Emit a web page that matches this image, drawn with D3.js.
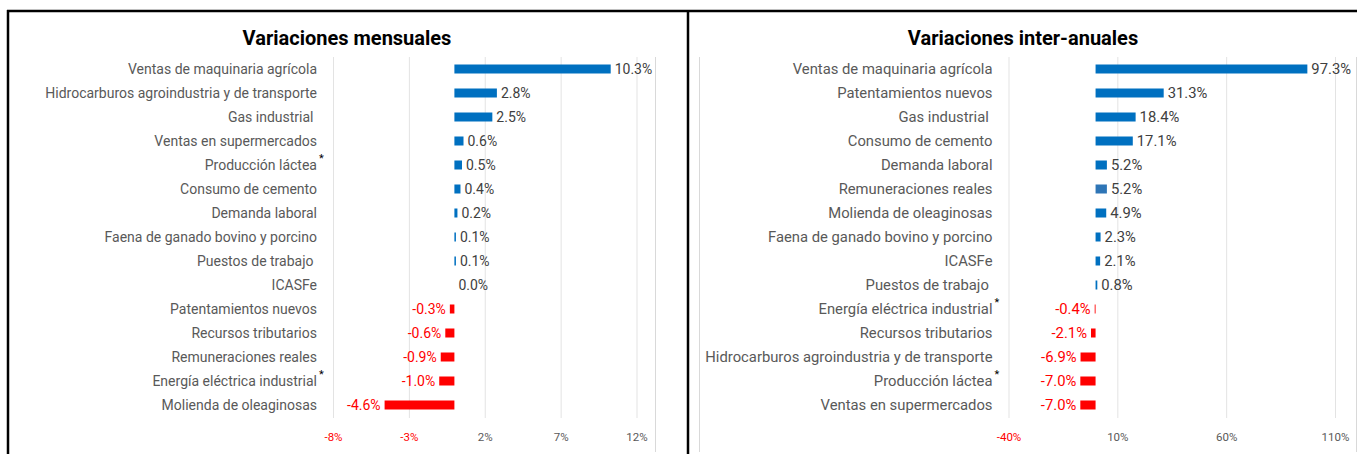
<!DOCTYPE html>
<html>
<head>
<meta charset="utf-8">
<style>
  body { margin: 0; background: #fff; }
  text { font-family: Roboto, "Open Sans", sans-serif; }
</style>
</head>
<body>
<svg width="1357" height="454"></svg>
<script src="https://d3js.org/d3.v7.min.js"></script>
<script>
// monthly variations (top to bottom)
const mensualesLabels = [
  "Ventas de maquinaria agrícola", "Hidrocarburos agroindustria y de transporte", "Gas industrial ",
  "Ventas en supermercados", "Producción láctea*", "Consumo de cemento", "Demanda laboral",
  "Faena de ganado bovino y porcino", "Puestos de trabajo ", "ICASFe", "Patentamientos nuevos",
  "Recursos tributarios", "Remuneraciones reales", "Energía eléctrica industrial*", "Molienda de oleaginosas"
];
const mensualesValues = [10.3, 2.8, 2.5, 0.6, 0.5, 0.4, 0.2, 0.1, 0.1, 0.0, -0.3, -0.6, -0.9, -1.0, -4.6];
const mensualesTicks = [-8, -3, 2, 7, 12];

// year-on-year variations (top to bottom)
const interanualesLabels = [
  "Ventas de maquinaria agrícola", "Patentamientos nuevos", "Gas industrial ", "Consumo de cemento",
  "Demanda laboral", "Remuneraciones reales", "Molienda de oleaginosas", "Faena de ganado bovino y porcino",
  "ICASFe", "Puestos de trabajo ", "Energía eléctrica industrial*", "Recursos tributarios",
  "Hidrocarburos agroindustria y de transporte", "Producción láctea*", "Ventas en supermercados"
];
const interanualesValues = [97.3, 31.3, 18.4, 17.1, 5.2, 5.2, 4.9, 2.3, 2.1, 0.8, -0.4, -2.1, -6.9, -7.0, -7.0];
const interanualesTicks = [-40, 10, 60, 110];

const svg = d3.select("svg");
const fmt = v => d3.format(".1f")(v).replace("\u2212", "-") + "%";
const blue = "#0070C0", red = "#FF0000";

// frames
const frame = svg.append("g").attr("stroke", "#000").attr("stroke-width", 2.5);
frame.append("line").attr("x1", 7).attr("x2", 1357).attr("y1", 11).attr("y2", 11);
frame.append("line").attr("x1", 8).attr("x2", 8).attr("y1", 10).attr("y2", 454);
frame.append("line").attr("x1", 688).attr("x2", 688).attr("y1", 10).attr("y2", 454);

const light = svg.append("g").attr("stroke", "#d9d9d9").attr("stroke-width", 1);
[655.5, 699.5, 1356.5].forEach(x =>
  light.append("line").attr("x1", x).attr("x2", x).attr("y1", 57).attr("y2", 452));

function drawPanel(opt) {
  const g = svg.append("g");
  const x = d3.scaleLinear().domain(d3.extent(opt.ticks)).range(opt.range);
  const y = d3.scalePoint().domain(d3.range(opt.labels.length)).range([57, 417]).padding(0.5);
  const top = 57, bottom = 418;

  g.append("text")
    .attr("x", opt.titleX).attr("y", 45)
    .attr("text-anchor", "middle")
    .attr("font-size", 20).attr("font-weight", "bold").attr("fill", "#000")
    .text(opt.title);

  // gridlines
  g.append("g")
    .attr("transform", `translate(0,${top})`)
    .call(d3.axisTop(x).tickValues(opt.ticks).tickSize(-(bottom - top)).tickFormat(""))
    .call(a => a.select(".domain").remove())
    .call(a => a.selectAll("line").attr("stroke", "#e3e3e3"));

  // tick labels
  g.append("g")
    .attr("transform", `translate(0,${bottom + 12})`)
    .call(d3.axisBottom(x).tickValues(opt.ticks).tickSize(0).tickFormat(d => d + "%"))
    .call(a => a.select(".domain").remove())
    .call(a => a.selectAll("text")
      .attr("font-size", 11.5)
      .attr("font-family", "Roboto, sans-serif")
      .attr("fill", d => d < 0 ? red : "#595959"));

  const rows = g.selectAll(".row")
    .data(opt.values.map((v, i) => ({ v, i, label: opt.labels[i] })))
    .join("g")
    .attr("class", "row");

  rows.append("rect")
    .attr("x", d => x(Math.min(0, d.v)))
    .attr("y", d => y(d.i) - 4.5)
    .attr("width", d => Math.abs(x(d.v) - x(0)))
    .attr("height", 9)
    .attr("fill", d => d.v < 0 ? red : (opt.special[d.label] || blue));

  rows.append("text")
    .attr("x", d => d.v < 0 ? x(d.v) - 4 : x(d.v) + 4)
    .attr("y", d => y(d.i))
    .attr("dy", "0.35em")
    .attr("text-anchor", d => d.v < 0 ? "end" : "start")
    .attr("font-size", opt.fontSize)
    .attr("fill", d => d.v < 0 ? red : "#404040")
    .text(d => fmt(d.v));

  const labelX = x.range()[0] - 16;
  rows.append("text")
    .attr("x", labelX)
    .attr("y", d => y(d.i))
    .attr("dy", "0.35em")
    .attr("text-anchor", "end")
    .attr("font-size", opt.fontSize)
    .attr("fill", "#595959")
    .style("white-space", "pre")
    .text(d => d.label.replace("*", ""));

  rows.filter(d => d.label.endsWith("*"))
    .append("text")
    .attr("x", labelX + 2)
    .attr("y", d => y(d.i) - 3)
    .attr("font-size", 11)
    .attr("fill", "#000")
    .text("*");
}

drawPanel({
  title: "Variaciones mensuales", titleX: 347, fontSize: 14,
  labels: mensualesLabels, values: mensualesValues, ticks: mensualesTicks,
  range: [333, 636.5], special: {}
});

drawPanel({
  title: "Variaciones inter-anuales", titleX: 1023, fontSize: 14.8,
  labels: interanualesLabels, values: interanualesValues, ticks: interanualesTicks,
  range: [1008.5, 1335], special: { "Remuneraciones reales": "#2E75B6" }
});
</script>
</body>
</html>
